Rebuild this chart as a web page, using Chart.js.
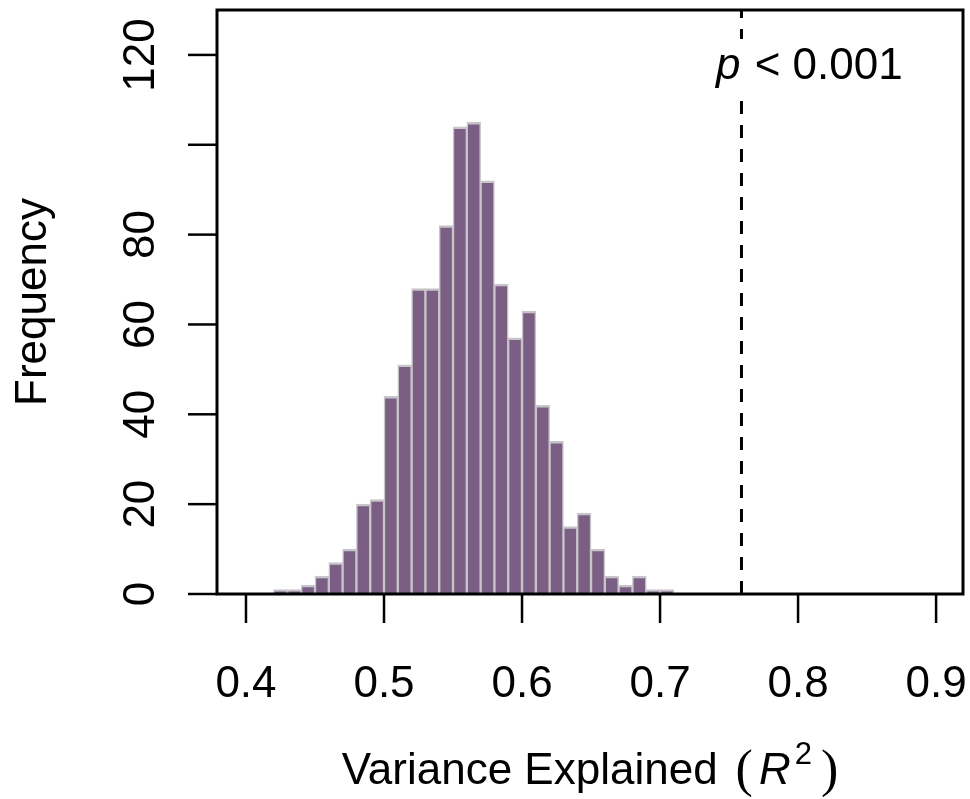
<!DOCTYPE html>
<html>
<head>
<meta charset="utf-8">
<script src="https://cdn.jsdelivr.net/npm/chart.js@4.4.1/dist/chart.umd.min.js"></script>
<style>
  html, body { margin: 0; padding: 0; background: #ffffff; }
  #wrap { width: 970px; height: 799px; }
</style>
</head>
<body>
<div id="wrap"><canvas id="hist" width="970" height="799"></canvas></div>
<script>
// Null distribution of R^2 from 1000 permutations, binned at 0.01
const binStarts = [0.42, 0.43, 0.44, 0.45, 0.46, 0.47, 0.48, 0.49, 0.50, 0.51,
                   0.52, 0.53, 0.54, 0.55, 0.56, 0.57, 0.58, 0.59, 0.60, 0.61,
                   0.62, 0.63, 0.64, 0.65, 0.66, 0.67, 0.68, 0.69, 0.70];
const binWidth = 0.01;
const counts = [1, 1, 2, 4, 7, 10, 20, 21, 44, 51,
                68, 68, 82, 104, 105, 92, 69, 57, 63, 42,
                34, 15, 18, 10, 4, 2, 4, 1, 1];
const observedR2 = 0.759;
const pLabel = '< 0.001';

const xTicks = [0.4, 0.5, 0.6, 0.7, 0.8, 0.9];
const xTickLabels = ['0.4', '0.5', '0.6', '0.7', '0.8', '0.9'];
const yTicks = [0, 20, 40, 60, 80, 100, 120];
const yTickLabels = ['0', '20', '40', '60', '80', '', '120'];

const SANS = '"Liberation Sans", Arial, Helvetica, sans-serif';
const SERIF = '"Liberation Serif", "Times New Roman", serif';
const FONT_PX = 44;

function seg(ctx, x1, y1, x2, y2) {
  ctx.beginPath();
  ctx.moveTo(x1, y1);
  ctx.lineTo(x2, y2);
  ctx.stroke();
}

// R-style box, axes, labels and the observed-value marker
const baseGraphics = {
  id: 'baseGraphics',
  afterDatasetsDraw(chart) {
    const { ctx, chartArea: a, scales: { x, y } } = chart;
    ctx.save();

    // observed statistic
    const ox = x.getPixelForValue(observedR2);
    ctx.strokeStyle = '#000';
    ctx.lineWidth = 3;
    ctx.setLineDash([13, 11]);
    seg(ctx, ox, a.bottom, ox, a.top);
    ctx.setLineDash([]);

    ctx.font = 'italic ' + FONT_PX + 'px ' + SANS;
    const pW = ctx.measureText('p').width;
    ctx.font = FONT_PX + 'px ' + SANS;
    const restW = ctx.measureText(' ' + pLabel).width;
    const tx = 716, ty = 79;
    ctx.fillStyle = '#fff';
    ctx.fillRect(tx - 6, ty - 40, pW + restW + 12, 56);
    ctx.fillStyle = '#000';
    ctx.textAlign = 'left';
    ctx.textBaseline = 'alphabetic';
    ctx.font = 'italic ' + FONT_PX + 'px ' + SANS;
    ctx.fillText('p', tx, ty);
    ctx.font = FONT_PX + 'px ' + SANS;
    ctx.fillText(' ' + pLabel, tx + pW + 2, ty);

    // box
    ctx.lineWidth = 3;
    ctx.strokeRect(a.left, a.top, a.right - a.left, a.bottom - a.top);

    // x axis
    ctx.lineWidth = 2.5;
    ctx.font = FONT_PX + 'px ' + SANS;
    ctx.textAlign = 'center';
    xTicks.forEach((v, i) => {
      const px = x.getPixelForValue(v);
      seg(ctx, px, a.bottom, px, a.bottom + 29);
      ctx.fillText(xTickLabels[i], px, 697);
    });

    // y axis, labels turned to read upwards
    yTicks.forEach((v, i) => {
      const py = y.getPixelForValue(v);
      seg(ctx, a.left - 29, py, a.left, py);
      if (yTickLabels[i]) {
        ctx.save();
        ctx.translate(154, py);
        ctx.rotate(-Math.PI / 2);
        ctx.fillText(yTickLabels[i], 0, 0);
        ctx.restore();
      }
    });

    // y title
    ctx.save();
    ctx.translate(46, (a.top + a.bottom) / 2);
    ctx.rotate(-Math.PI / 2);
    ctx.fillText('Frequency', 0, 0);
    ctx.restore();

    // x title: Variance Explained  (R^2), plotmath-like spacing
    const parts = [
      { t: 'Variance Explained', f: FONT_PX + 'px ' + SANS, dy: 0, gap: 18 },
      { t: '(', f: '52px ' + SERIF, dy: 2, gap: 6 },
      { t: 'R', f: 'italic ' + FONT_PX + 'px ' + SANS, dy: 0, gap: 4 },
      { t: '2', f: '31px ' + SANS, dy: -20, gap: 9 },
      { t: ')', f: '52px ' + SERIF, dy: 2, gap: 0 }
    ];
    let total = 0;
    parts.forEach(p => { ctx.font = p.f; p.w = ctx.measureText(p.t).width; total += p.w + p.gap; });
    let cx = (a.left + a.right) / 2 - total / 2;
    ctx.textAlign = 'left';
    parts.forEach(p => {
      ctx.font = p.f;
      ctx.fillText(p.t, cx, 784 + p.dy);
      cx += p.w + p.gap;
    });

    ctx.restore();
  }
};

const histData = binStarts.map((b, i) => ({ x: b + binWidth / 2, y: counts[i] }));

new Chart(document.getElementById('hist'), {
  type: 'bar',
  data: {
    datasets: [{
      label: 'Frequency',
      data: histData,
      backgroundColor: '#7b5e84',
      borderColor: '#c8c5ca',
      borderWidth: { top: 2.5, left: 1.5, right: 1.5, bottom: 0 },
      borderSkipped: false,
      barPercentage: 1,
      categoryPercentage: 1
    }]
  },
  options: {
    responsive: false,
    animation: false,
    devicePixelRatio: 1,
    layout: { padding: { left: 217, right: 7, top: 10, bottom: 205 } },
    plugins: {
      legend: { display: false },
      tooltip: { enabled: false }
    },
    scales: {
      x: { type: 'linear', min: 0.379, max: 0.9195, offset: false, display: false },
      y: { min: 0, max: 130, display: false }
    }
  },
  plugins: [baseGraphics]
});
</script>
</body>
</html>
